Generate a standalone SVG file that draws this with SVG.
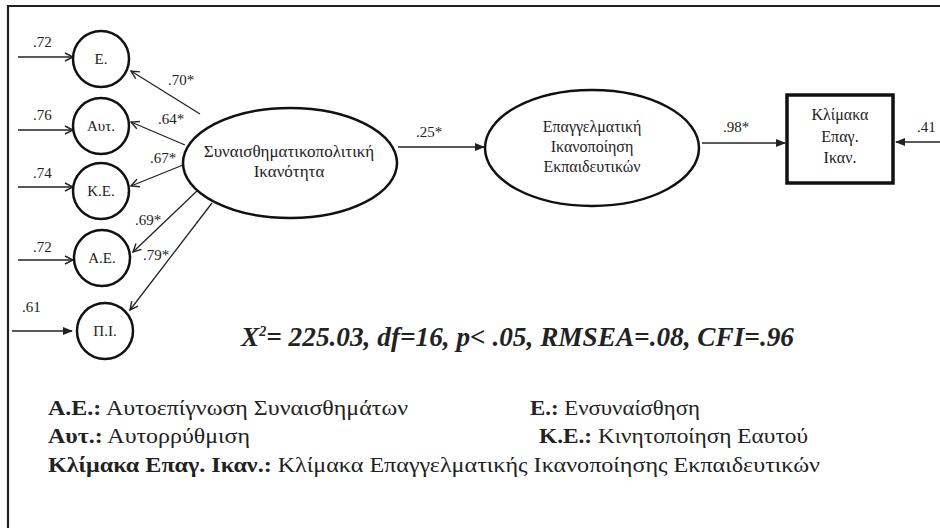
<svg xmlns="http://www.w3.org/2000/svg" width="940" height="528" viewBox="0 0 940 528" font-family="'Liberation Serif', serif">
<defs>
<marker id="chev" viewBox="0 0 10 10" refX="9" refY="5" markerWidth="10" markerHeight="10" markerUnits="userSpaceOnUse" orient="auto">
<path d="M1,1 L9,5 L1,9" fill="none" stroke="#222" stroke-width="1.4"/>
</marker>
<marker id="tri" viewBox="0 0 10 10" refX="9" refY="5" markerWidth="10" markerHeight="10" markerUnits="userSpaceOnUse" orient="auto">
<path d="M0,1 L10,5 L0,9 Z" fill="#222"/>
</marker>
</defs>
<style>
.node{fill:#fff;stroke:#111;stroke-width:2.5}
.box{fill:#fff;stroke:#111;stroke-width:3.5}
.c{fill:none;stroke:#222;stroke-width:1.3}
.s{font-family:'Liberation Serif',serif;fill:#222}
.lbl{font-size:15px}
.nt{font-size:15px;text-anchor:middle}
.lg{font-size:21px}
.b{font-weight:bold}
</style>
<rect x="0" y="0" width="940" height="528" fill="#fff"/>
<path d="M8,528 L8,6 L940,6" fill="none" stroke="#222" stroke-width="2.2"/>

<g id="connectors">
<line class="c" x1="18" y1="57" x2="73" y2="57" marker-end="url(#chev)"/>
<line class="c" x1="18" y1="130" x2="73" y2="130" marker-end="url(#chev)"/>
<line class="c" x1="18" y1="187" x2="73" y2="187" marker-end="url(#chev)"/>
<line class="c" x1="18" y1="260" x2="73" y2="260" marker-end="url(#chev)"/>
<line class="c" x1="12" y1="331" x2="72" y2="331" marker-end="url(#tri)"/>
<line class="c" x1="200" y1="114" x2="131" y2="71" marker-end="url(#chev)"/>
<line class="c" x1="185" y1="145" x2="131" y2="122" marker-end="url(#chev)"/>
<line class="c" x1="183" y1="165" x2="131" y2="186" marker-end="url(#chev)"/>
<line class="c" x1="198" y1="190" x2="133" y2="252" marker-end="url(#chev)"/>
<line class="c" x1="212" y1="203" x2="130" y2="310" marker-end="url(#chev)"/>
<line class="c" x1="398" y1="147" x2="484" y2="147" marker-end="url(#tri)"/>
<line class="c" x1="702" y1="143" x2="785" y2="143" marker-end="url(#tri)"/>
<line class="c" x1="940" y1="142" x2="896" y2="142" marker-end="url(#tri)"/>
<text class="s lbl" style="font-family:'Liberation Serif',serif" x="33" y="47">.72</text>
<text class="s lbl" style="font-family:'Liberation Serif',serif" x="33" y="120">.76</text>
<text class="s lbl" style="font-family:'Liberation Serif',serif" x="33" y="178">.74</text>
<text class="s lbl" style="font-family:'Liberation Serif',serif" x="33" y="252">.72</text>
<text class="s lbl" style="font-family:'Liberation Serif',serif" x="22" y="312">.61</text>
<text class="s lbl" style="font-family:'Liberation Serif',serif" x="168" y="85">.70*</text>
<text class="s lbl" style="font-family:'Liberation Serif',serif" x="158" y="124">.64*</text>
<text class="s lbl" style="font-family:'Liberation Serif',serif" x="150" y="163">.67*</text>
<text class="s lbl" style="font-family:'Liberation Serif',serif" x="135" y="225">.69*</text>
<text class="s lbl" style="font-family:'Liberation Serif',serif" x="143" y="260">.79*</text>
<text class="s lbl" style="font-family:'Liberation Serif',serif" x="416" y="137">.25*</text>
<text class="s lbl" style="font-family:'Liberation Serif',serif" x="723" y="132">.98*</text>
<text class="s lbl" style="font-family:'Liberation Serif',serif" x="917" y="132">.41</text>
</g>

<g id="n-E">
<circle class="node" cx="101" cy="59" r="28"/>
<text class="s nt" style="font-family:'Liberation Serif',serif" x="101" y="64">Ε.</text>
</g>
<g id="n-Aut">
<circle class="node" cx="101" cy="126" r="28"/>
<text class="s nt" style="font-family:'Liberation Serif',serif" x="101" y="131">Αυτ.</text>
</g>
<g id="n-KE">
<circle class="node" cx="101" cy="191" r="28"/>
<text class="s nt" style="font-family:'Liberation Serif',serif" x="101" y="196">Κ.Ε.</text>
</g>
<g id="n-AE">
<circle class="node" cx="102" cy="258" r="28"/>
<text class="s nt" style="font-family:'Liberation Serif',serif" x="102" y="263">Α.Ε.</text>
</g>
<g id="n-PI">
<circle class="node" cx="105" cy="331" r="28"/>
<text class="s nt" style="font-family:'Liberation Serif',serif" x="105" y="336">Π.Ι.</text>
</g>
<g id="n-SPI">
<ellipse class="node" cx="290" cy="163" rx="107" ry="55"/>
<text class="s nt" style="font-family:'Liberation Serif',serif;font-size:17px" x="289" y="157">Συναισθηματικοπολιτική</text>
<text class="s nt" style="font-family:'Liberation Serif',serif;font-size:17px" x="289" y="177">Ικανότητα</text>
</g>
<g id="n-EIE">
<ellipse class="node" cx="592" cy="148" rx="107" ry="58"/>
<text class="s nt" style="font-family:'Liberation Serif',serif;font-size:16px" x="592" y="132">Επαγγελματική</text>
<text class="s nt" style="font-family:'Liberation Serif',serif;font-size:16px" x="592" y="152">Ικανοποίηση</text>
<text class="s nt" style="font-family:'Liberation Serif',serif;font-size:16px" x="592" y="172">Εκπαιδευτικών</text>
</g>
<g id="n-KEI">
<rect class="box" x="787" y="95" width="106" height="88"/>
<text class="s nt" style="font-family:'Liberation Serif',serif;font-size:16px" x="840" y="120">Κλίμακα</text>
<text class="s nt" style="font-family:'Liberation Serif',serif;font-size:16px" x="840" y="142">Επαγ.</text>
<text class="s nt" style="font-family:'Liberation Serif',serif;font-size:16px" x="840" y="163">Ικαν.</text>
</g>

<g id="fit">
<text class="s b" style="font-family:'Liberation Serif',serif;font-size:27px;font-style:italic" x="241" y="346" textLength="553" lengthAdjust="spacingAndGlyphs">X<tspan style="font-size:14px" dy="-10">2</tspan><tspan dy="10">= 225.03, df=16, p&lt; .05, RMSEA=.08, CFI=.96</tspan></text>
</g>

<g id="legend">
<text class="s lg" style="font-family:'Liberation Serif',serif" x="48" y="415" textLength="360" lengthAdjust="spacingAndGlyphs"><tspan class="b">Α.Ε.:</tspan> Αυτοεπίγνωση Συναισθημάτων</text>
<text class="s lg" style="font-family:'Liberation Serif',serif" x="530" y="415" textLength="170" lengthAdjust="spacingAndGlyphs"><tspan class="b">Ε.:</tspan> Ενσυναίσθηση</text>
<text class="s lg" style="font-family:'Liberation Serif',serif" x="48" y="443" textLength="202" lengthAdjust="spacingAndGlyphs"><tspan class="b">Αυτ.:</tspan> Αυτορρύθμιση</text>
<text class="s lg" style="font-family:'Liberation Serif',serif" x="539" y="443" textLength="269" lengthAdjust="spacingAndGlyphs"><tspan class="b">Κ.Ε.:</tspan> Κινητοποίηση Εαυτού</text>
<text class="s lg" style="font-family:'Liberation Serif',serif" x="48" y="472" textLength="772" lengthAdjust="spacingAndGlyphs"><tspan class="b">Κλίμακα Επαγ. Ικαν.:</tspan> Κλίμακα Επαγγελματικής Ικανοποίησης Εκπαιδευτικών</text>
</g>
</svg>
